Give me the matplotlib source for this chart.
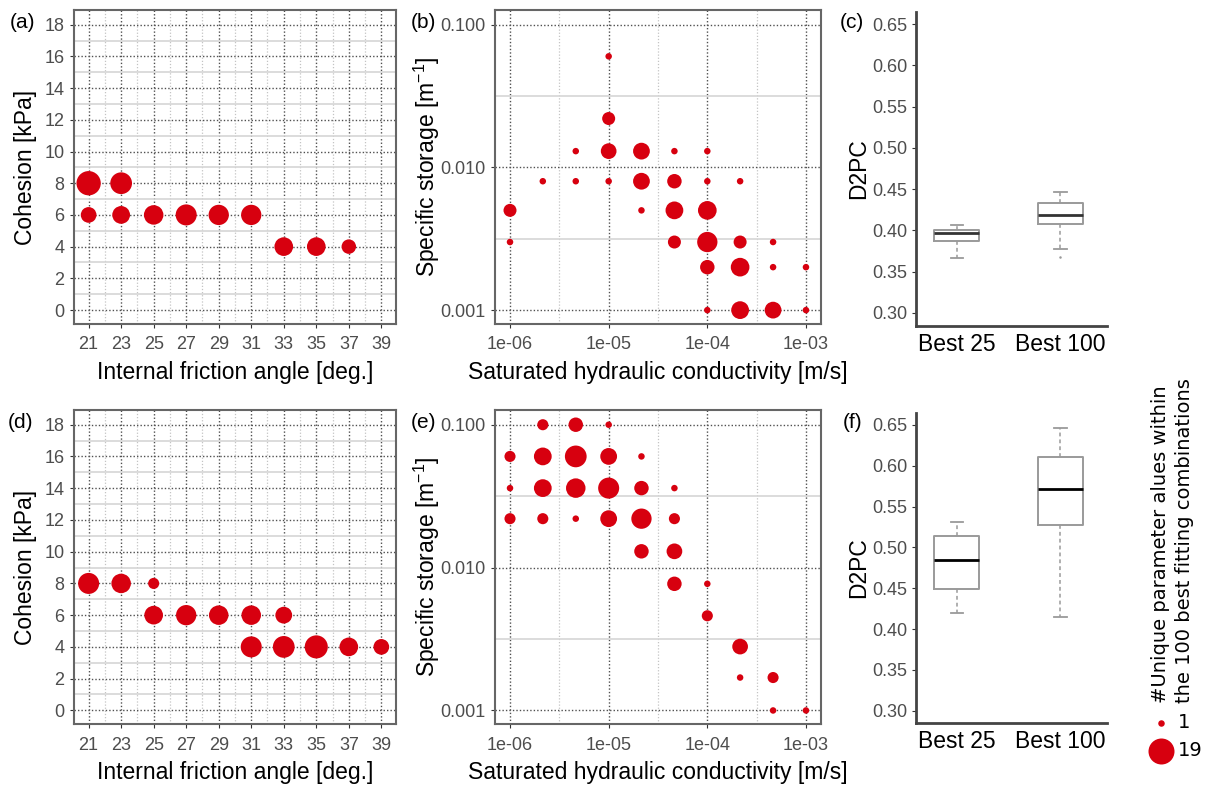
import matplotlib.pyplot as plt
import numpy as np
from matplotlib.ticker import NullFormatter

plt.rcParams['font.family'] = ['Liberation Sans', 'DejaVu Sans']

RED = '#D7000F'

# (a) friction angle / cohesion, best 100 (upper row)
a_phi = [21, 23, 21, 23, 25, 27, 29, 31, 33, 35, 37]
a_coh = [8, 8, 6, 6, 6, 6, 6, 6, 4, 4, 4]
a_n = [16, 12, 5, 7, 9, 11, 10, 10, 8, 8, 4]

# (d) friction angle / cohesion (lower row)
d_phi = [21, 23, 25, 25, 27, 29, 31, 33, 31, 33, 35, 37, 39]
d_coh = [8, 8, 8, 6, 6, 6, 6, 6, 4, 4, 4, 4, 4]
d_n = [11, 9, 2, 8, 10, 9, 9, 6, 11, 12, 14, 8, 5]

# (b) hydraulic conductivity [m/s] / specific storage [1/m]
b_ks = [1e-6, 1e-6, 2.15e-6, 4.64e-6, 4.64e-6, 1e-5, 1e-5, 1e-5, 1e-5,
        2.15e-5, 2.15e-5, 2.15e-5, 4.64e-5, 4.64e-5, 4.64e-5, 4.64e-5,
        1e-4, 1e-4, 1e-4, 1e-4, 1e-4, 1e-4, 2.15e-4, 2.15e-4, 2.15e-4, 2.15e-4,
        4.64e-4, 4.64e-4, 4.64e-4, 1e-3, 1e-3]
b_ss = [0.005, 0.003, 0.008, 0.013, 0.008, 0.06, 0.022, 0.013, 0.008,
        0.013, 0.008, 0.005, 0.013, 0.008, 0.005, 0.003,
        0.013, 0.008, 0.005, 0.003, 0.002, 0.001, 0.008, 0.003, 0.002, 0.001,
        0.003, 0.002, 0.001, 0.002, 0.001]
b_n = [3, 1, 1, 1, 1, 1, 3, 5, 1,
       6, 6, 1, 1, 4, 7, 3,
       1, 1, 8, 10, 4, 1, 1, 3, 8, 7,
       1, 1, 6, 1, 1]

# (e) hydraulic conductivity / specific storage (lower row)
e_ks = [2.15e-6, 4.64e-6, 1e-5,
        1e-6, 2.15e-6, 4.64e-6, 1e-5, 2.15e-5,
        1e-6, 2.15e-6, 4.64e-6, 1e-5, 2.15e-5, 4.64e-5,
        1e-6, 2.15e-6, 4.64e-6, 1e-5, 2.15e-5, 4.64e-5,
        2.15e-5, 4.64e-5, 4.64e-5, 1e-4, 1e-4, 2.15e-4, 2.15e-4, 4.64e-4,
        4.64e-4, 1e-3]
e_ss = [0.1, 0.1, 0.1,
        0.06, 0.06, 0.06, 0.06, 0.06,
        0.036, 0.036, 0.036, 0.036, 0.036, 0.036,
        0.022, 0.022, 0.022, 0.022, 0.022, 0.022,
        0.013, 0.013, 0.0077, 0.0077, 0.0046, 0.0028, 0.0017, 0.0017,
        0.001, 0.001]
e_n = [2, 4, 1,
       2, 7, 12, 6, 1,
       1, 7, 9, 11, 4, 1,
       2, 2, 1, 6, 10, 2,
       4, 5, 4, 1, 2, 5, 1, 2,
       1, 1]

# (c) and (f) D2PC boxplots
box_labels = ['Best 25', 'Best 100']
c_whislo = [0.367, 0.377]
c_q1 = [0.387, 0.4075]
c_med = [0.397, 0.419]
c_q3 = [0.401, 0.433]
c_whishi = [0.407, 0.447]
c_fliers = [[], [0.368]]
f_whislo = [0.419, 0.4146]
f_q1 = [0.449, 0.5276]
f_med = [0.485, 0.5715]
f_q3 = [0.514, 0.6106]
f_whishi = [0.531, 0.6463]
f_fliers = [[], []]

legend_n = [1, 19]


def marker_size(n):
    """ggplot-like area scale: diameter grows with sqrt of rescaled count."""
    n = np.asarray(n, dtype=float)
    d_px = 6.5 + 19.5 * np.sqrt((n - 1) / 18)
    return (d_px * 0.72) ** 2


def style_scatter_axes(ax):
    ax.set_axisbelow(True)
    ax.grid(which='major', linestyle=(0, (1, 1.5)), color='#505050', lw=1.0)
    ax.yaxis.grid(True, which='minor', linestyle='-', color='#d6d6d6', lw=1.2)
    ax.xaxis.grid(True, which='minor', linestyle=(0, (1, 1.5)), color='#c4c4c4', lw=0.9)
    for sp in ax.spines.values():
        sp.set_color('#666666')
        sp.set_linewidth(1.5)
    ax.tick_params(which='major', labelsize=13, labelcolor='#4D4D4D',
                   color='#333333', length=3, pad=4)
    ax.tick_params(axis='x', which='major', pad=6)
    ax.tick_params(which='minor', length=0)


def phi_panel(ax, phi, coh, n):
    ax.scatter(phi, coh, s=marker_size(n), color=RED, lw=0, zorder=3)
    ax.set_xlim(20.1, 39.9)
    ax.set_ylim(-0.88, 18.93)
    ax.set_xticks(range(21, 40, 2))
    ax.set_xticks(range(22, 39, 2), minor=True)
    ax.set_yticks(range(0, 19, 2))
    ax.set_yticks(range(1, 18, 2), minor=True)
    style_scatter_axes(ax)
    ax.set_xlabel('Internal friction angle [deg.]', fontsize=16.5)
    ax.set_ylabel('Cohesion [kPa]', fontsize=16.5)
    ax.xaxis.set_label_coords(0.5, -0.118)
    ax.yaxis.set_label_coords(-0.115, 0.5)


def ks_panel(ax, ks, ss, n):
    ax.set_xscale('log')
    ax.set_yscale('log')
    ax.scatter(ks, ss, s=marker_size(n), color=RED, lw=0, zorder=3)
    ax.set_xlim(10 ** -6.152, 10 ** -2.848)
    ax.set_ylim(10 ** -3.097, 10 ** -0.897)
    ax.set_xticks([1e-6, 1e-5, 1e-4, 1e-3], ['1e-06', '1e-05', '1e-04', '1e-03'])
    ax.set_xticks([10 ** -5.5, 10 ** -4.5, 10 ** -3.5], minor=True)
    ax.set_yticks([0.001, 0.01, 0.1], ['0.001', '0.010', '0.100'])
    ax.set_yticks([10 ** -2.5, 10 ** -1.5], minor=True)
    ax.xaxis.set_minor_formatter(NullFormatter())
    ax.yaxis.set_minor_formatter(NullFormatter())
    style_scatter_axes(ax)
    ax.set_xlabel('Saturated hydraulic conductivity [m/s]', fontsize=16.5)
    ax.set_ylabel('Specific storage [m$^{\\mathregular{-1}}$]', fontsize=16.5)
    ax.xaxis.set_label_coords(0.5, -0.118)
    ax.yaxis.set_label_coords(-0.163, 0.5)


def box_panel(ax, whislo, q1, med, q3, whishi, fliers, med_color):
    stats = []
    for i in range(len(box_labels)):
        stats.append(dict(label=box_labels[i], whislo=whislo[i], q1=q1[i],
                          med=med[i], q3=q3[i], whishi=whishi[i],
                          fliers=fliers[i]))
    ax.bxp(stats, positions=[1, 2], widths=0.435, capwidths=0.12,
           boxprops=dict(color='#9a9a9a', lw=1.4),
           whiskerprops=dict(color='#9a9a9a', lw=1.1, linestyle=(0, (2.5, 2))),
           capprops=dict(color='#9a9a9a', lw=1.3),
           medianprops=dict(color=med_color, lw=2),
           flierprops=dict(marker='o', markersize=1.8, markerfacecolor='#9a9a9a',
                           markeredgecolor='none'))
    ax.set_xlim(0.605, 2.45)
    ax.set_ylim(0.2845, 0.665)
    ax.set_yticks(np.round(np.arange(0.30, 0.651, 0.05), 2))
    ax.set_yticks([0.3, 0.4, 0.5, 0.6], minor=True)
    ax.yaxis.set_major_formatter(plt.FormatStrFormatter('%.2f'))
    ax.yaxis.set_minor_formatter(NullFormatter())
    ax.yaxis.grid(True, which='minor', linestyle=(0, (3, 2)), color='#cccccc', lw=0.9)
    ax.set_axisbelow(True)
    for side in ['top', 'right']:
        ax.spines[side].set_visible(False)
    for side in ['left', 'bottom']:
        ax.spines[side].set_color('#444444')
        ax.spines[side].set_linewidth(2)
    ax.tick_params(axis='y', which='major', labelsize=13, labelcolor='#4D4D4D',
                   color='#333333', length=3, pad=3)
    ax.tick_params(axis='x', labelsize=16.5, labelcolor='black', length=0, pad=5)
    ax.tick_params(which='minor', length=0)
    ax.set_ylabel('D2PC', fontsize=16.5)
    ax.yaxis.set_label_coords(-0.24, 0.5)


fig = plt.figure(figsize=(12.05, 7.85), dpi=100)

ax_a = fig.add_axes([0.0614, 0.5873, 0.2672, 0.4])
ax_b = fig.add_axes([0.4108, 0.5873, 0.2705, 0.4])
ax_c = fig.add_axes([0.7602, 0.5851, 0.1585, 0.4])
ax_d = fig.add_axes([0.0614, 0.0773, 0.2672, 0.4004])
ax_e = fig.add_axes([0.4108, 0.0773, 0.2705, 0.4004])
ax_f = fig.add_axes([0.7602, 0.0786, 0.1585, 0.3957])

phi_panel(ax_a, a_phi, a_coh, a_n)
phi_panel(ax_d, d_phi, d_coh, d_n)
ks_panel(ax_b, b_ks, b_ss, b_n)
ks_panel(ax_e, e_ks, e_ss, e_n)
box_panel(ax_c, c_whislo, c_q1, c_med, c_q3, c_whishi, c_fliers, '#333333')
box_panel(ax_f, f_whislo, f_q1, f_med, f_q3, f_whishi, f_fliers, 'black')

# panel tags
for tag, x, y in [('(a)', 10, 22), ('(b)', 411, 22), ('(c)', 840, 22),
                  ('(d)', 8, 423), ('(e)', 411, 423), ('(f)', 843, 423)]:
    fig.text(x / 1205, 1 - y / 785, tag, fontsize=15, ha='left', va='center')

# size legend
fig.text(1160 / 1205, 1 - 703 / 785, '#Unique parameter alues within',
         rotation=90, ha='center', va='bottom', fontsize=14, family='DejaVu Sans')
fig.text(1184 / 1205, 1 - 703 / 785, 'the 100 best fitting combinations',
         rotation=90, ha='center', va='bottom', fontsize=14, family='DejaVu Sans')
handles = [ax_a.scatter([], [], s=marker_size(n), color=RED, lw=0) for n in legend_n]
fig.legend(handles, [str(n) for n in legend_n], loc='upper left',
           bbox_to_anchor=(1149 / 1205, 1 - 713 / 785), frameon=False,
           borderpad=0, borderaxespad=0, handlelength=1.2, handletextpad=0.3,
           labelspacing=0.45, prop={'family': 'DejaVu Sans', 'size': 14})

fig.savefig('out.png', dpi=100)
